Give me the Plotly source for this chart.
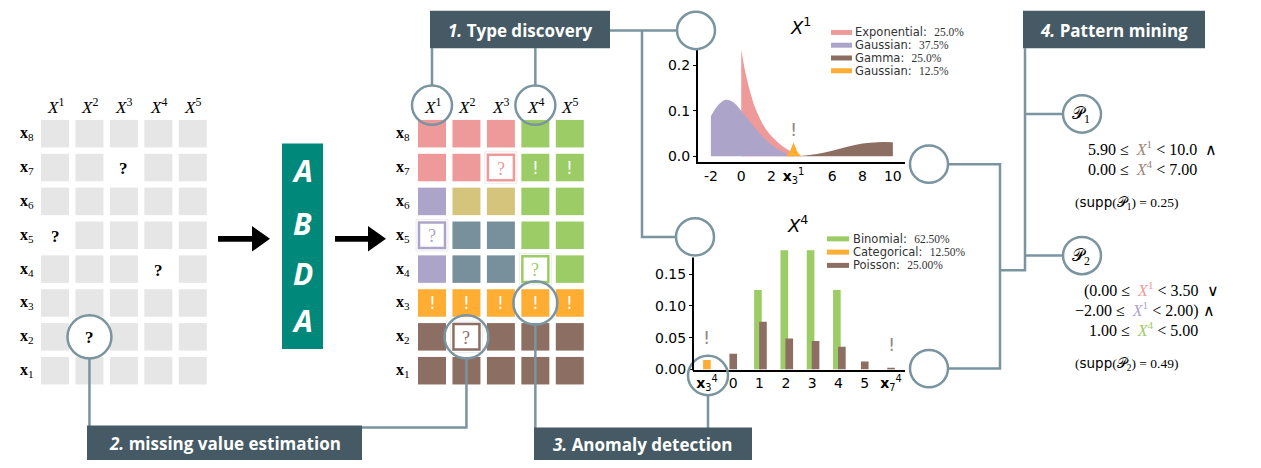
import plotly.graph_objects as go

W, H = 1261, 468

# ---------------- data ----------------
row_ids = ["8", "7", "6", "5", "4", "3", "2", "1"]
col_ids = ["1", "2", "3", "4", "5"]
missing_cells = [("7", "3"), ("5", "1"), ("4", "4"), ("2", "2")]
anomaly_cells = [("7", "4"), ("7", "5"), ("3", "1"), ("3", "2"), ("3", "3"), ("3", "4"), ("3", "5")]
cell_types = [
    ["pink", "pink", "pink", "green", "green"],
    ["pink", "pink", "pink", "green", "green"],
    ["purple", "khaki", "khaki", "green", "green"],
    ["purple", "slate", "slate", "green", "green"],
    ["purple", "slate", "slate", "green", "green"],
    ["orange", "orange", "orange", "orange", "orange"],
    ["brown", "brown", "brown", "brown", "brown"],
    ["brown", "brown", "brown", "brown", "brown"],
]
palette = {
    "pink": "#EF9A9A", "purple": "#ADA5C9", "khaki": "#D5C47B", "slate": "#78909C",
    "green": "#9CCC65", "orange": "#FFAD33", "brown": "#8D6E63",
}

# X^1 : mixture components (density)
exp_x = [0, 0.25, 0.5, 0.75, 1, 1.5, 2, 2.5, 3, 3.5]
exp_y = [0.234, 0.188, 0.152, 0.123, 0.100, 0.066, 0.044, 0.028, 0.016, 0.008]
gauss_x = [-2, -1.5, -1, -0.5, 0, 0.5, 1, 1.5, 2, 2.5, 3, 3.5]
gauss_y = [0.088, 0.113, 0.124, 0.118, 0.100, 0.079, 0.058, 0.040, 0.025, 0.014, 0.006, 0.001]
gamma_x = [3.3, 4, 5, 6, 7, 8, 9, 10]
gamma_y = [0.0, 0.001, 0.005, 0.012, 0.021, 0.028, 0.031, 0.031]
spike_x = [2.95, 3.2, 3.45, 3.7, 3.95]
spike_y = [0.0, 0.010, 0.031, 0.010, 0.0]
dens_names = ["Exponential", "Gaussian", "Gamma", "Gaussian"]
dens_share = ["25.0%", "37.5%", "25.0%", "12.5%"]
dens_colors = ["pink", "purple", "brown", "orange"]
dens_ticks = [-2, 0, 2, 3.45, 6, 8, 10]
dens_ticktext = ["-2", "0", "2", "<b>x</b><sub>3</sub><sup>1</sup>", "6", "8", "10"]
dens_anomaly = 3.45

# X^4 : probability mass per category
bar_cats = ["<b>x</b><sub>3</sub><sup>4</sup>", "0", "1", "2", "3", "4", "5", "<b>x</b><sub>7</sub><sup>4</sup>"]
binomial = [0, 0, 0.125, 0.1875, 0.1875, 0.125, 0, 0]
categorical = [0.015, 0, 0, 0, 0, 0, 0, 0]
poisson = [0, 0.025, 0.075, 0.049, 0.045, 0.036, 0.0125, 0.002]
bar_names = ["Binomial", "Categorical", "Poisson"]
bar_share = ["62.50%", "12.50%", "25.00%"]
bar_colors = ["green", "orange", "brown"]
bar_anomalies = [0, 7]

# ---------------- style ----------------
LINE = "#7A94A0"
LABEL_BG = "#455A64"
TEAL = "#00897B"
SERIF = "Liberation Serif"
SANS = "DejaVu Sans"

fig = go.Figure()
shapes, annos = [], []


def seg(pts, color=LINE, width=2.5):
    path = "M " + " L ".join(f"{x},{y}" for x, y in pts)
    shapes.append(dict(type="path", path=path, xref="x", yref="y",
                       line=dict(color=color, width=width)))


def circle(cx, cy, r, fill=None):
    shapes.append(dict(type="circle", xref="x", yref="y", x0=cx - r, x1=cx + r, y0=cy - r, y1=cy + r,
                       line=dict(color=LINE, width=2.5),
                       fillcolor=fill if fill else "rgba(0,0,0,0)"))


def rect(x0, y0, x1, y1, fill, line_color=None, lw=0):
    shapes.append(dict(type="rect", xref="x", yref="y", x0=x0, x1=x1, y0=y0, y1=y1,
                       fillcolor=fill, line=dict(color=line_color or fill, width=lw)))


def text(x, y, t, size=15, color="black", family=SERIF, xanchor="center"):
    annos.append(dict(x=x, y=y, xref="x", yref="y", text=t, showarrow=False,
                      xanchor=xanchor, yanchor="middle",
                      font=dict(size=size, color=color, family=family)))


# ---------------- grids ----------------
CW, PITCH, Y0 = 28, 34.45, 122


def cell_xy(x0, r, c):
    return x0 + c * PITCH, Y0 + r * PITCH


for gx0, lab_x, typed in [(41, 27, False), (418, 403, True)]:
    for c, cid in enumerate(col_ids):
        text(gx0 + c * PITCH + CW / 2, 108, f"<i>X</i><sup>{cid}</sup>", size=17)
    for r, rid in enumerate(row_ids):
        text(lab_x, Y0 + r * PITCH + CW / 2, f"<b>x</b><sub>{rid}</sub>", size=16)
        for c, cid in enumerate(col_ids):
            x, y = cell_xy(gx0, r, c)
            cx, cy = x + CW / 2, y + CW / 2
            col = palette[cell_types[r][c]]
            if (rid, cid) in missing_cells:
                if typed:
                    rect(x - 2, y - 2, x + CW + 2, y + CW + 2, "white", "rgba(0,0,0,0.08)", 1)
                    rect(x + 1, y + 1, x + CW - 1, y + CW - 1, "white", col, 2.5)
                    text(cx, cy + 1, "?", size=18, color=col)
                else:
                    text(cx, cy + 1, "<b>?</b>", size=17)
                continue
            rect(x, y, x + CW, y + CW, col if typed else "#E6E6E6")
            if typed and (rid, cid) in anomaly_cells:
                text(cx, cy, "!", size=17, color="white", family=SANS)

# circles highlighting grid elements
r2 = row_ids.index("2")
r3 = row_ids.index("3")
lx, ly = cell_xy(41, r2, 1)
circle(lx + CW / 2, ly + CW / 2, 22)
mx2, my2 = cell_xy(418, r2, 1)
circle(mx2 + CW / 2, my2 + CW / 2, 22)
mx4, my4 = cell_xy(418, r3, 3)
circle(mx4 + CW / 2, my4 + CW / 2, 22)
h1 = 418 + CW / 2
h4 = 418 + 3 * PITCH + CW / 2
circle(h1, 107, 20)
circle(h4, 107, 20)

# arrows
for xa, xb in [(218, 270), (335, 386)]:
    yc = 243
    p = (f"M {xa},{yc-3} L {xb-18},{yc-3} L {xb-18},{yc-13} L {xb},{yc} "
         f"L {xb-18},{yc+13} L {xb-18},{yc+3} L {xa},{yc+3} Z")
    shapes.append(dict(type="path", path=p, xref="x", yref="y", fillcolor="black",
                       line=dict(color="black", width=0)))

# ABDA block
rect(282, 146, 323, 355, TEAL)
for ch, yy in zip("ABDA", [173, 227, 278, 326]):
    text(302.5, yy, f"<b><i>{ch}</i></b>", size=30, color="white", family="Open Sans")

# ---------------- connectors ----------------
seg([(h1, 49), (h1, 87)])
seg([(h4, 49), (h4, 87)])
seg([(610, 31), (677, 31)])
seg([(642, 31), (642, 241), (676, 241)])
seg([(lx + CW / 2, 365), (lx + CW / 2, 435), (mx2 + CW / 2, 435), (mx2 + CW / 2, 364)])
seg([(mx4 + CW / 2, 330), (mx4 + CW / 2, 440)])
seg([(708, 402), (708, 440)])
seg([(948, 167), (1000, 167), (1000, 375), (948, 375)])
seg([(1025, 49), (1025, 275), (1000, 275)])
seg([(1025, 116), (1063, 116)])
seg([(1025, 260), (1063, 260)])

circle(696, 31, 19, "white")
circle(695, 241, 19, "white")
circle(929, 167, 19, "white")
circle(929, 375, 19, "white")
circle(708, 382, 20)
circle(1082, 116, 19, "white")
circle(1082, 260, 19, "white")
text(1081, 117, "𝒫<sub>1</sub>", size=17)
text(1081, 261, "𝒫<sub>2</sub>", size=17)

# step labels
for x0, y0, x1, y1, t in [
    (430, 11, 610, 49, "<i>1.</i> Type discovery"),
    (87, 433, 362, 468, "<i>2.</i> missing value estimation"),
    (534, 435, 752, 468, "<i>3.</i> Anomaly detection"),
    (1023, 11, 1205, 49, "<i>4.</i> Pattern mining"),
]:
    rect(x0, y0, x1, y1, LABEL_BG)
    text((x0 + x1) / 2, (y0 + y1) / 2 + 1, f"<b>{t}</b>", size=17, color="white", family="Open Sans")

# ---------------- pattern rules ----------------
def xv(i, color):
    return f"<span style='color:{color}'><i>X</i><sup>{i}</sup></span>"


br = "#A08578"
sp = "&nbsp;"
RS = 16
text(1086, 151, f"5.90 ≤{sp*2}{xv(1, br)}{sp}&lt; 10.0{sp*2}∧", size=RS, xanchor="left")
text(1086, 171, f"0.00 ≤{sp*2}{xv(4, br)}{sp}&lt; 7.00", size=RS, xanchor="left")
text(1073, 207, "(<span style='font-family:DejaVu Sans'>supp</span>(𝒫<sub>1</sub>) = 0.25)",
     size=13.5, xanchor="left")
text(1082, 295, f"(0.00 ≤{sp*2}{xv(1, palette['pink'])}{sp}&lt; 3.50{sp*2}∨", size=RS, xanchor="left")
text(1073, 315, f"−2.00 ≤{sp*2}{xv(1, palette['purple'])}{sp}&lt; 2.00) ∧", size=RS, xanchor="left")
text(1087, 335, f"1.00 ≤{sp*2}{xv(4, palette['green'])}{sp}&lt; 5.00", size=RS, xanchor="left")
text(1073, 370, "(<span style='font-family:DejaVu Sans'>supp</span>(𝒫<sub>2</sub>) = 0.49)",
     size=13.5, xanchor="left")

# ---------------- X^1 density chart ----------------
for xs, ys, cname in [(exp_x, exp_y, "pink"), (gauss_x, gauss_y, "purple"),
                      (gamma_x, gamma_y, "brown")]:
    fig.add_trace(go.Scatter(x=xs, y=ys, xaxis="x2", yaxis="y2", mode="lines", fill="tozeroy",
                             fillcolor=palette[cname], line=dict(width=0, shape="spline"),
                             hoverinfo="skip"))
fig.add_trace(go.Scatter(x=spike_x, y=spike_y, xaxis="x2", yaxis="y2", mode="lines", fill="tozeroy",
                         fillcolor=palette["orange"], line=dict(width=0), hoverinfo="skip"))
annos.append(dict(x=dens_anomaly, y=0.058, xref="x2", yref="y2", text="!", showarrow=False,
                  font=dict(size=18, color="#8A8A8A", family=SANS)))
text(800, 26, "<i>X</i><sup>1</sup>", size=18, family=SANS)
for i, (n, s, cname) in enumerate(zip(dens_names, dens_share, dens_colors)):
    yy = 33 + i * 13
    seg([(831, yy), (852, yy)], color=palette[cname], width=5)
    text(853, yy, f"{n}:  <span style='font-family:{SERIF}'>{s}</span>", size=11.5,
         color="#333", family=SANS, xanchor="left")

# ---------------- X^4 bar chart ----------------
def positions(a, b):
    xa, xb = [], []
    for i in range(len(a)):
        both = a[i] > 0 and b[i] > 0
        xa.append(i - 0.06 if both else i)
        xb.append(i + 0.13 if both else i)
    return xa, xb


gx, px_ = positions(binomial, poisson)
fig.add_trace(go.Bar(x=gx, y=binomial, width=0.29, marker=dict(color=palette["green"], line_width=0),
                     xaxis="x3", yaxis="y3", hoverinfo="skip"))
fig.add_trace(go.Bar(x=list(range(len(categorical))), y=categorical, width=0.29,
                     marker=dict(color=palette["orange"], line_width=0), xaxis="x3", yaxis="y3",
                     hoverinfo="skip"))
fig.add_trace(go.Bar(x=px_, y=poisson, width=0.29, marker=dict(color=palette["brown"], line_width=0),
                     xaxis="x3", yaxis="y3", hoverinfo="skip"))
for i, yy in zip(bar_anomalies, [0.05, 0.04]):
    annos.append(dict(x=i, y=yy, xref="x3", yref="y3", text="!", showarrow=False,
                      font=dict(size=18, color="#8A8A8A", family=SANS)))
text(797, 228, "<i>X</i><sup>4</sup>", size=18, family=SANS)
for i, (n, s, cname) in enumerate(zip(bar_names, bar_share, bar_colors)):
    yy = 243 + i * 13.5
    seg([(827, yy), (849, yy)], color=palette[cname], width=5)
    text(851, yy, f"{n}:  <span style='font-family:{SERIF}'>{s}</span>", size=11.5,
         color="#333", family=SANS, xanchor="left")
seg([(693, 262), (693, 377)], color="black", width=2)

# base invisible trace for the pixel canvas
fig.add_trace(go.Scatter(x=[0], y=[0], xaxis="x", yaxis="y", mode="markers",
                         marker=dict(opacity=0), hoverinfo="skip"))

tick_font = dict(family=SANS, size=14, color="black")
fig.update_layout(
    width=W, height=H, margin=dict(l=0, r=0, t=0, b=0),
    paper_bgcolor="white", plot_bgcolor="rgba(0,0,0,0)", showlegend=False,
    barmode="overlay",
    xaxis=dict(range=[0, W], domain=[0, 1], visible=False, fixedrange=True),
    yaxis=dict(range=[H, 0], domain=[0, 1], visible=False, fixedrange=True),
    xaxis2=dict(domain=[698 / W, 905 / W], range=[-2.85, 10.8], anchor="y2", showline=True,
                linecolor="black", linewidth=2, showgrid=False, zeroline=False,
                tickvals=dens_ticks, ticktext=dens_ticktext, tickfont=tick_font),
    yaxis2=dict(domain=[1 - 165 / H, 1 - 50 / H], range=[-0.013, 0.235], anchor="x2", showline=True,
                linecolor="black", linewidth=2, showgrid=False, zeroline=False,
                tickvals=[0, 0.1, 0.2], ticktext=["0.0", "0.1", "0.2"], ticks="outside",
                ticklen=3, tickcolor="black", tickfont=tick_font),
    xaxis3=dict(domain=[693 / W, 905 / W], range=[-0.53, 7.53], anchor="y3", showline=True,
                linecolor="black", linewidth=2, showgrid=False, zeroline=False,
                tickvals=list(range(len(bar_cats))), ticktext=bar_cats, tickfont=tick_font),
    yaxis3=dict(domain=[1 - 376 / H, 1 - 253 / H], range=[0, 0.19], anchor="x3", showline=False,
                showgrid=False, zeroline=False, tickvals=[0, 0.05, 0.10, 0.15],
                ticktext=["0.00", "0.05", "0.10", "0.15"], ticks="outside", ticklen=3,
                tickcolor="black", tickfont=tick_font),
    shapes=shapes, annotations=annos,
)

fig.write_html("out.html", config={"displayModeBar": False},
               post_script="document.body.style.margin='0';document.body.style.overflow='hidden';")
